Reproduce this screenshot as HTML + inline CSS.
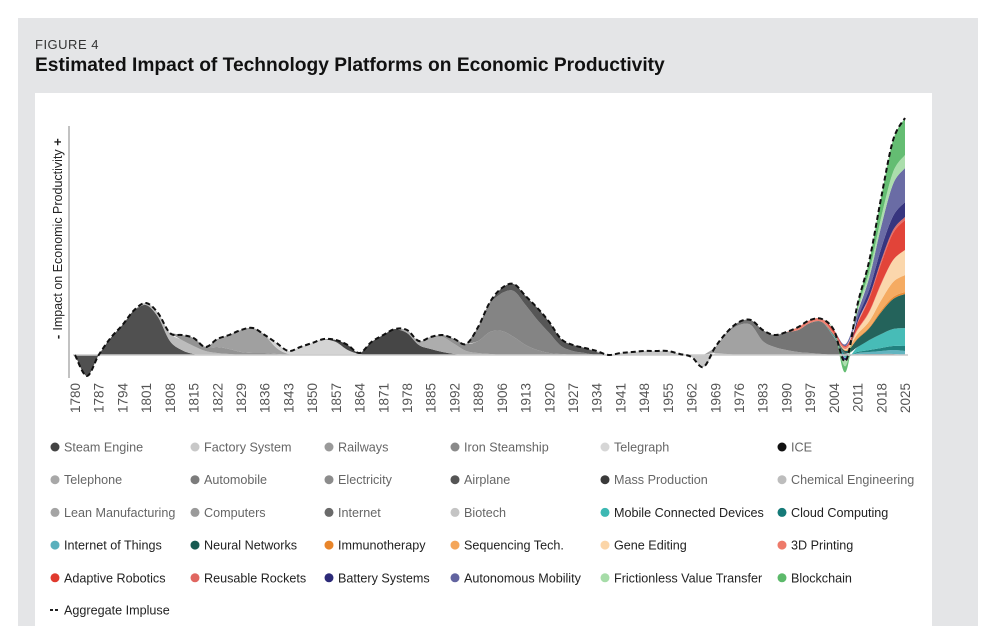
<!DOCTYPE html>
<html><head><meta charset="utf-8"><style>
html,body{margin:0;padding:0;width:1000px;height:626px;overflow:hidden;background:#fff;font-family:"Liberation Sans",sans-serif}
#panel{position:absolute;left:18px;top:18px;width:960px;height:608px;background:#e4e5e7}
#fig{position:absolute;left:35px;top:37px;font-size:13px;color:#333;letter-spacing:0.5px}
#title{position:absolute;left:35px;top:55px;font-size:19.2px;font-weight:bold;color:#111}
#box{position:absolute;left:35px;top:93px;width:897px;height:533px;background:#fff}
svg{position:absolute;left:0;top:0}
</style></head><body>
<div id="panel"></div>
<div id="fig">FIGURE 4</div>
<div id="title">Estimated Impact of Technology Platforms on Economic Productivity</div>
<div id="box"></div>
<svg id="chart" width="1000" height="626"></svg>
<script>
const yearLabels=["1780","1787","1794","1801","1808","1815","1822","1829","1836","1843","1850","1857","1864","1871","1978","1885","1992","1889","1906","1913","1920","1927","1934","1941","1948","1955","1962","1969","1976","1983","1990","1997","2004","2011","2018","2025"];
const seriesNames=["Steam Engine","Factory System","Iron Steamship","Railways","Telegraph","ICE","Telephone","Automobile","Electricity","Airplane","Chemical Engineering","Lean Manufacturing","Computers","Internet of Things","Cloud Computing","Mobile Connected Devices","Neural Networks","Immunotherapy","Sequencing Tech.","Gene Editing","3D Printing","Adaptive Robotics","Reusable Rockets","Battery Systems","Autonomous Mobility","Frictionless Value Transfer","Blockchain"];
const seriesColors=["#474747","#b8b8b8","#8d8d8d","#9b9b9b","#d2d2d2","#3c3c3c","#a9a9a9","#8a8a8a","#7d7d7d","#4d4d4d","#c4c4c4","#9d9d9d","#6e6e6e","#5ab0bd","#157a78","#3db8b3","#185b52","#e8852a","#f4a65a","#fbd5a8","#ee7a6a","#e03a2e","#e06660","#2c2a78","#6264a0","#a6dca8","#5cb96a"];
// start index on half-step grid (0..70)
const seriesStart=[0,6,9,11,17,22,28,31,34,36,44,54,56,63,63,63,63,63,63,63,61,63,63,63,63,63,63];
const steamEngine=[0,-21,0,17,30,45,50,38,14,5,1,0];
const factorySystem=[2,4,8,10,8,4,2,1,0];
const ironSteamship=[5,8,4,6,5,3,2,2,1,0];
const railways=[0,8,14,22,25,18,6,1,0];
const telegraph=[5,3,8,12,16,13,5,1,0];
const ice=[2,5,1,13,20,26,22,10,6,3,1,0];
const telephone=[3,4,12,15,10,4,2,1,0];
const automobile=[2,5,7,12,22,24,18,10,5,2,1,0];
const electricity=[14,30,38,46,40,30,20,8,4,2,0];
const airplane=[5,7,9,12,11,7,6,5,3,0];
const chemEng=[1,0,2,3,4,4,4,1,-2,-12,2,1,0];
const leanMfg=[6,22,30,30,14,8,5,3,2,1,0];
const computers=[3,5,11,12,18,22,30,32,18,2,1,1,1,1,0];
const iot=[0,0,0,1,2,3,4,4];
const cloud=[0,0,-1,1,2,3,4,5];
const mobile=[0,1,-2,5,10,14,17,18];
const neural=[0,1,2,8,12,22,30,34];
const immuno=[0,0,0,1,1,2,2,2];
const sequencing=[0,0,1,4,6,10,15,17];
const geneEditing=[0,0,1,4,9,16,22,25];
const printing3d=[3,3,3,2,2,1,1,1,0,0];
const adaptiveRobotics=[0,3,1,6,13,20,27,30];
const reusableRockets=[0,0,0,1,2,3,3,3];
const batterySystems=[0,0,-2,4,7,12,14,15];
const autonomousMobility=[0,0,2,6,12,22,32,34];
const frictionless=[0,0,-6,3,6,9,12,13];
const blockchain=[0,0,-6,5,11,20,32,37];
const seriesValues=[steamEngine,factorySystem,ironSteamship,railways,telegraph,ice,telephone,automobile,electricity,airplane,chemEng,leanMfg,computers,iot,cloud,mobile,neural,immuno,sequencing,geneEditing,printing3d,adaptiveRobotics,reusableRockets,batterySystems,autonomousMobility,frictionless,blockchain];
const legendNames=["Steam Engine","Factory System","Railways","Iron Steamship","Telegraph","ICE","Telephone","Automobile","Electricity","Airplane","Mass Production","Chemical Engineering","Lean Manufacturing","Computers","Internet","Biotech","Mobile Connected Devices","Cloud Computing","Internet of Things","Neural Networks","Immunotherapy","Sequencing Tech.","Gene Editing","3D Printing","Adaptive Robotics","Reusable Rockets","Battery Systems","Autonomous Mobility","Frictionless Value Transfer","Blockchain"];
const legendColors=["#444","#c8c8c8","#9a9a9a","#8a8a8a","#d6d6d6","#111","#a8a8a8","#7c7c7c","#8c8c8c","#555","#3a3a3a","#bdbdbd","#a4a4a4","#9a9a9a","#6a6a6a","#c4c4c4","#3db8b3","#157a78","#5ab0bd","#185b52","#e8852a","#f4a65a","#fbd5a8","#ee7a6a","#e03a2e","#e06660","#2c2a78","#6264a0","#a6dca8","#5cb96a"];

const NS="http://www.w3.org/2000/svg";
const svg=document.getElementById('chart');
const N=71;
const X0=75, STEP=(905-75)/35, BASE=355;
function xs(k){return X0+k*STEP/2;}
function ys(v){return BASE-v;}
function mk(t,a){const e=document.createElementNS(NS,t);for(const k in a)e.setAttribute(k,a[k]);svg.appendChild(e);return e;}
function spline(pts){let d="M"+pts[0][0]+","+pts[0][1];for(let i=0;i<pts.length-1;i++){const p0=pts[i-1]||pts[i],p1=pts[i],p2=pts[i+1],p3=pts[i+2]||p2;const c1=[p1[0]+(p2[0]-p0[0])/6,p1[1]+(p2[1]-p0[1])/6],c2=[p2[0]-(p3[0]-p1[0])/6,p2[1]-(p3[1]-p1[1])/6];d+=" C"+c1[0].toFixed(1)+","+c1[1].toFixed(1)+" "+c2[0].toFixed(1)+","+c2[1].toFixed(1)+" "+p2[0].toFixed(1)+","+p2[1].toFixed(1);}return d;}
function full(s){const a=new Array(N).fill(0);seriesValues[s].forEach((v,i)=>{const k=seriesStart[s]+i;if(k<N)a[k]=v;});return a;}
const pos=new Array(N).fill(0),neg=new Array(N).fill(0),total=new Array(N).fill(0);
seriesNames.forEach((nm,s)=>{
  const a=full(s);const lo=[],hi=[];
  for(let k=0;k<N;k++){const v=a[k];if(v>=0){lo.push(pos[k]);hi.push(pos[k]+v);pos[k]+=v;}else{lo.push(neg[k]);hi.push(neg[k]+v);neg[k]+=v;}total[k]+=v;}
  let k0=Math.max(0,seriesStart[s]-1),k1=Math.min(N-1,seriesStart[s]+seriesValues[s].length);
  const top=[],bot=[];for(let k=k0;k<=k1;k++){top.push([xs(k),ys(hi[k])]);bot.push([xs(k),ys(lo[k])]);}
  bot.reverse();
  const d=spline(top)+" L"+bot[0][0]+","+bot[0][1]+spline(bot).replace(/^M[^C]*/," ")+" Z";
  const p=mk('path',{d:d,fill:seriesColors[s],'fill-opacity':0.95});
  
  
});
const bl=mk('line',{x1:X0-2,x2:908,y1:BASE,y2:BASE,stroke:'#ccc','stroke-width':1.5});

const agg=[];for(let k=0;k<N;k++)agg.push([xs(k),ys(total[k])]);
const al=mk('path',{d:spline(agg),fill:'none',stroke:'#111','stroke-width':2,'stroke-dasharray':'5,3'});

const ax=mk('line',{x1:69,x2:69,y1:126,y2:378,stroke:'#999','stroke-width':1.2});

const yt=mk('text',{x:0,y:0,transform:'translate(62,240) rotate(-90)','text-anchor':'middle','font-size':12.5,fill:'#222'});
yt.textContent='Impact on Economic Productivity';

const yp=mk('text',{x:0,y:0,transform:'translate(62,142) rotate(-90)','text-anchor':'middle','font-size':13,'font-weight':'bold',fill:'#222'});yp.textContent='+';

const ym=mk('text',{x:0,y:0,transform:'translate(62,337) rotate(-90)','text-anchor':'middle','font-size':13,'font-weight':'bold',fill:'#222'});ym.textContent='-';

yearLabels.forEach((y,i)=>{const t=mk('text',{x:0,y:0,transform:'translate('+(X0+i*STEP+5)+',383) rotate(-90)','text-anchor':'end','font-size':13.5,fill:'#555'});t.textContent=y;
});
const colX=[55,195,329,455,605,782];
legendNames.forEach((nm,i)=>{const r=Math.floor(i/6),c=i%6;const cy=447+r*32.7;
 const cc=mk('circle',{cx:colX[c],cy:cy,r:4.5,fill:legendColors[i]});
 
 const t=mk('text',{x:colX[c]+9,y:cy+4.5,'font-size':12.6,fill:i<16?'#666':'#222'});t.textContent=nm;
 });
const dl=mk('line',{x1:50,x2:60,y1:610,y2:610,stroke:'#222','stroke-width':2,'stroke-dasharray':'3,2'});

const dt=mk('text',{x:64,y:614.5,'font-size':12.6,fill:'#222'});dt.textContent='Aggregate Impluse';

</script>
</body></html>
